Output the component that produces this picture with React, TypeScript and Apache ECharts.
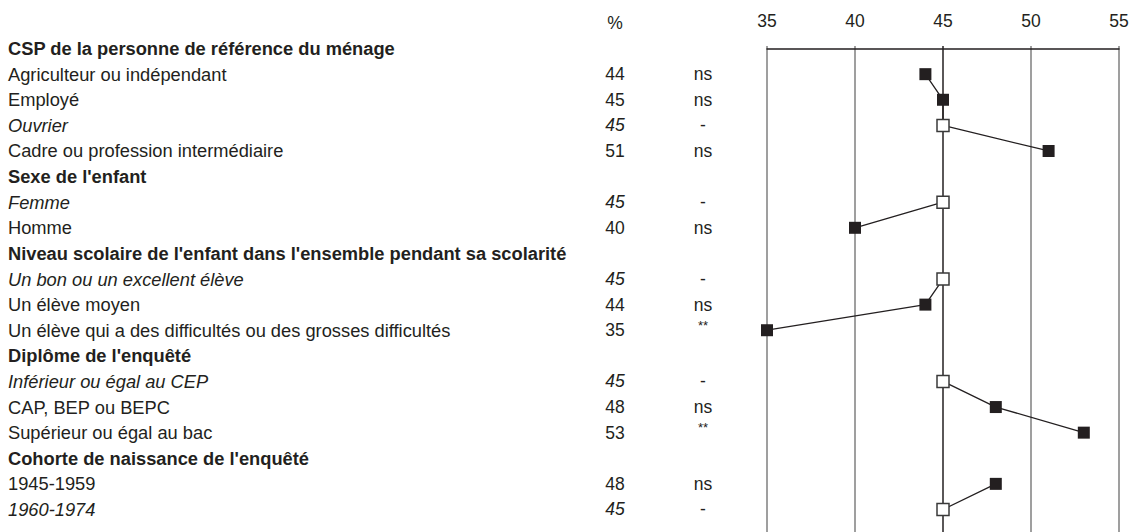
import React, { useEffect, useRef } from "react";
import * as echarts from "echarts";

// ---- data ----
const rowLabels: string[] = [
  "CSP de la personne de référence du ménage",
  "Agriculteur ou indépendant",
  "Employé",
  "Ouvrier",
  "Cadre ou profession intermédiaire",
  "Sexe de l'enfant",
  "Femme",
  "Homme",
  "Niveau scolaire de l'enfant dans l'ensemble pendant sa scolarité",
  "Un bon ou un excellent élève",
  "Un élève moyen",
  "Un élève qui a des difficultés ou des grosses difficultés",
  "Diplôme de l'enquêté",
  "Inférieur ou égal au CEP",
  "CAP, BEP ou BEPC",
  "Supérieur ou égal au bac",
  "Cohorte de naissance de l'enquêté",
  "1945-1959",
  "1960-1974",
];
const rowValues: (number | null)[] = [
  null, 44, 45, 45, 51,
  null, 45, 40,
  null, 45, 44, 35,
  null, 45, 48, 53,
  null, 48, 45,
];
const rowSignif: string[] = [
  "", "ns", "ns", "-", "ns",
  "", "-", "ns",
  "", "-", "ns", "**",
  "", "-", "ns", "**",
  "", "ns", "-",
];
// reference categories (italic, open marker)
const isReference: boolean[] = [
  false, false, false, true, false,
  false, true, false,
  false, true, false, false,
  false, true, false, false,
  false, false, true,
];
const isHeader: boolean[] = rowValues.map((v) => v === null);
const valueColumnTitle = "%";
const xTicks = { min: 35, max: 55, step: 5 };

const FONT = "'Liberation Sans', Arial, Helvetica, sans-serif";
const INK = "#231f20";

export default function App() {
  const ref = useRef<HTMLDivElement>(null);
  useEffect(() => {
    document.body.style.margin = "0";
    const chart = echarts.init(ref.current!, undefined, { renderer: "svg" });

    const lineData = rowValues.map((v, i) =>
      v === null
        ? ["-", i]
        : {
            value: [v, i],
            itemStyle: isReference[i]
              ? { color: "#ffffff", borderColor: "#3a3a3a", borderWidth: 1.5 }
              : { color: INK, borderWidth: 0 },
          }
    );

    chart.setOption({
      animation: false,
      grid: { left: 767, right: 14, top: 46, bottom: 0, containLabel: false },
      xAxis: {
        type: "value",
        position: "top",
        min: xTicks.min,
        max: xTicks.max,
        interval: xTicks.step,
        axisLine: { show: true, lineStyle: { color: INK, width: 1.5 } },
        axisTick: { show: false },
        axisLabel: {
          fontFamily: FONT,
          fontSize: 17.5,
          color: INK,
          margin: 16,
        },
        splitLine: {
          show: true,
          showMinLine: true,
          showMaxLine: true,
          lineStyle: {
            color: ["#7f7f7f", "#7f7f7f", INK, "#7f7f7f", "#7f7f7f"],
            width: 1.5,
          },
        },
      },
      yAxis: {
        type: "value",
        inverse: true,
        min: -0.1,
        max: 18.88,
        show: false,
        splitLine: { show: false },
      },
      series: [
        {
          type: "line",
          data: lineData,
          connectNulls: false,
          symbol: "rect",
          symbolSize: 12,
          lineStyle: { color: INK, width: 1.3 },
          z: 3,
        },
        {
          type: "custom",
          clip: false,
          data: rowLabels.map((_, i) => [xTicks.min, i]),
          renderItem: (params: any, api: any) => {
            const i = api.value(1);
            const y = api.coord([xTicks.min, i])[1];
            const children: any[] = [];
            const italic = isReference[i] ? "italic" : "normal";
            children.push({
              type: "text",
              x: 8,
              y,
              style: {
                text: rowLabels[i],
                fontFamily: FONT,
                fontSize: 18.3,
                fontWeight: isHeader[i] ? "bold" : "normal",
                fontStyle: italic,
                fill: INK,
                align: "left",
                verticalAlign: "middle",
              },
            });
            if (rowValues[i] !== null) {
              children.push({
                type: "text",
                x: 615,
                y,
                style: {
                  text: String(rowValues[i]),
                  fontFamily: FONT,
                  fontSize: 17.5,
                  fontStyle: italic,
                  fill: INK,
                  align: "center",
                  verticalAlign: "middle",
                },
              });
              const sig = rowSignif[i];
              children.push({
                type: "text",
                x: 703,
                y: sig === "**" ? y - 5 : y,
                style: {
                  text: sig,
                  fontFamily: FONT,
                  fontSize: sig === "**" ? 13 : 17.5,
                  fill: INK,
                  align: "center",
                  verticalAlign: "middle",
                },
              });
            }
            if (i === 0) {
              const yHead = api.coord([xTicks.min, -1])[1];
              children.push({
                type: "text",
                x: 615,
                y: yHead,
                style: {
                  text: valueColumnTitle,
                  fontFamily: FONT,
                  fontSize: 17.5,
                  fill: INK,
                  align: "center",
                  verticalAlign: "middle",
                },
              });
            }
            return { type: "group", children };
          },
          z: 1,
        },
      ],
    });
    return () => chart.dispose();
  }, []);
  return <div ref={ref} style={{ width: 1133, height: 532 }} />;
}
